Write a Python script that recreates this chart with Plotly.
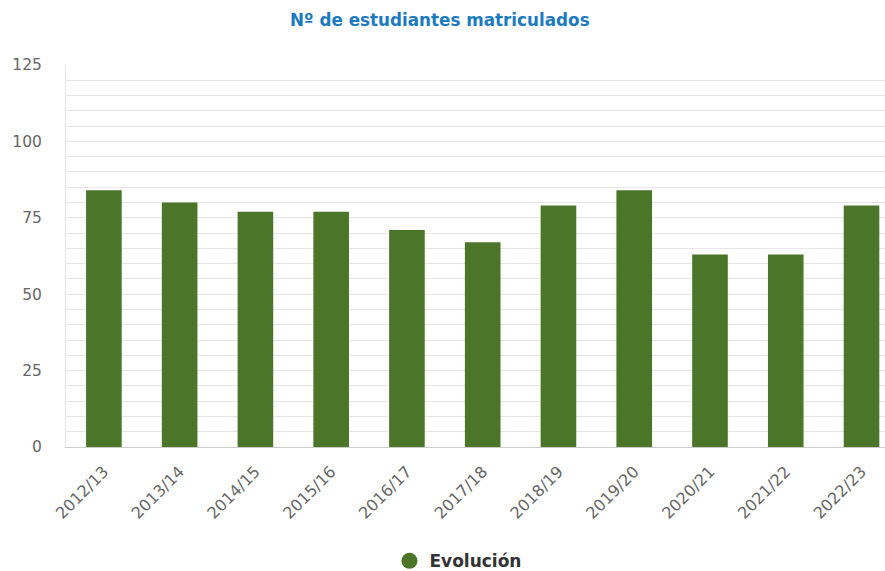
import plotly.graph_objects as go

categories = ["2012/13", "2013/14", "2014/15", "2015/16", "2016/17", "2017/18",
              "2018/19", "2019/20", "2020/21", "2021/22", "2022/23"]
values = [84, 80, 77, 77, 71, 67, 79, 84, 63, 63, 79]
series_name = "Evolución"
y_ticks = [0, 25, 50, 75, 100, 125]

bar_color = "#4b7629"
FONT = "DejaVu Sans, Verdana, sans-serif"

fig = go.Figure()
fig.add_trace(go.Bar(x=categories, y=values, name=series_name,
                     marker=dict(color=bar_color, line=dict(width=0)),
                     showlegend=False))
fig.add_trace(go.Scatter(x=[None], y=[None], mode="markers", name="<b>" + series_name + "</b>",
                         marker=dict(symbol="circle", size=18, color=bar_color),
                         showlegend=True))

fig.update_layout(
    width=885, height=571,
    margin=dict(l=66, r=0, t=65, b=124, autoexpand=False),
    paper_bgcolor="white", plot_bgcolor="white",
    bargap=0.53,
    title=dict(text="<b>Nº de estudiantes matriculados</b>", x=0.497, xanchor="center",
               y=0.965, yanchor="middle",
               font=dict(family=FONT, size=16.8, color="#1b7ac2")),
    font=dict(family=FONT, color="#666666"),
    xaxis=dict(type="category", range=[-0.5, 10.31], tickangle=-45,
               tickfont=dict(size=16, color="#666666"),
               showline=True, linecolor="#cccccc", linewidth=1,
               showgrid=False, ticks="", fixedrange=True, automargin=False,
               ticklabelstandoff=8),
    yaxis=dict(range=[0, 125], tickvals=y_ticks, ticktext=[str(v) for v in y_ticks],
               tickfont=dict(size=15.5, color="#666666"),
               showgrid=True, gridcolor="#e6e6e6", gridwidth=1,
               minor=dict(dtick=5, showgrid=True, gridcolor="#e6e6e6", gridwidth=1),
               showline=True, linecolor="#e6e6e6", linewidth=1,
               zeroline=False, ticks="", ticklabelstandoff=20, automargin=False),
    legend=dict(orientation="h", x=0.4786, xanchor="center", yref="container", y=0.017,
                yanchor="middle", font=dict(size=17, color="#333333", family=FONT),
                itemsizing="trace"),
)

fig.write_html("out.html", config={"displayModeBar": False},
               post_script="document.body.style.margin='0';document.body.style.overflow='hidden';")
